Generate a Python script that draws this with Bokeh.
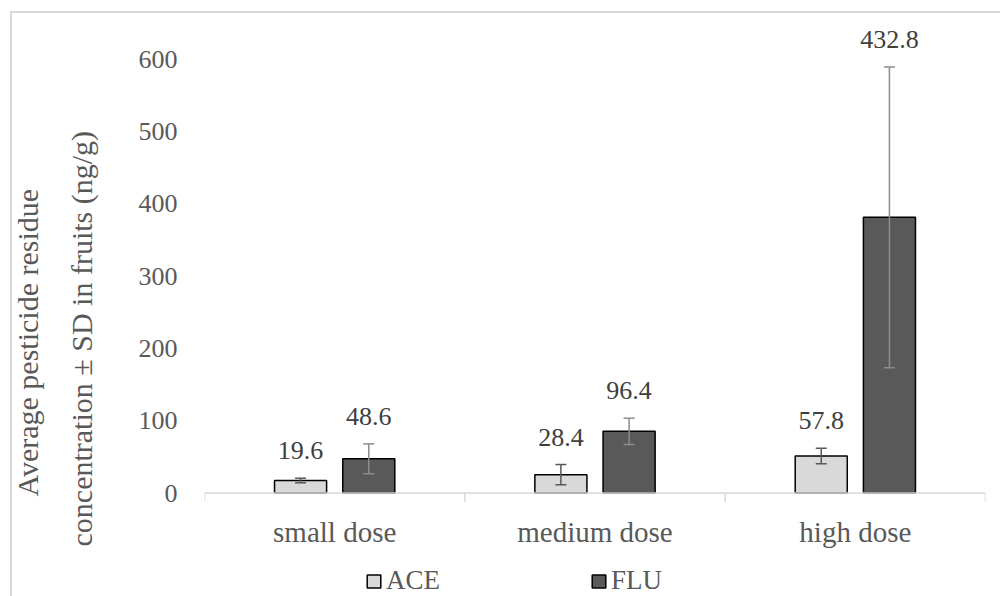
from bokeh.plotting import figure
from bokeh.models import (ColumnDataSource, FactorRange, Range1d, FixedTicker,
                          Legend, LegendItem, Title, Span)
from bokeh.transform import dodge
from bokeh.core.properties import value
from bokeh.embed import file_html
from bokeh.resources import INLINE

# ---- data ----
doses = ["small dose", "medium dose", "high dose"]
ace_mean = [17.3, 25.4, 51.3]
ace_sd = [3.2, 14.0, 10.7]
flu_mean = [47.3, 85.3, 381.5]
flu_sd = [20.7, 18.2, 208.0]
ace_labels = ["19.6", "28.4", "57.8"]
flu_labels = ["48.6", "96.4", "432.8"]
y_ticks = [0, 100, 200, 300, 400, 500, 600]
series = ["ACE", "FLU"]
category_edges = [0, 1, 2, 3]
title_lines = ["Average pesticide residue", "concentration \u00b1 SD  in fruits (ng/g)"]

FONT = "Liberation Serif"
GRAY_TXT = "#595959"
AXIS_GRAY = "#d9d9d9"

src = ColumnDataSource(dict(
    dose=doses,
    ace=ace_mean,
    ace_lo=[m - s for m, s in zip(ace_mean, ace_sd)],
    ace_hi=[m + s for m, s in zip(ace_mean, ace_sd)],
    ace_lbl=ace_labels,
    flu=flu_mean,
    flu_lo=[m - s for m, s in zip(flu_mean, flu_sd)],
    flu_hi=[m + s for m, s in zip(flu_mean, flu_sd)],
    flu_lbl=flu_labels,
))

p = figure(x_range=FactorRange(*doses), y_range=Range1d(-143.2, 640),
           width=1000, height=596, output_backend="svg", toolbar_location=None,
           min_border_left=204, min_border_right=15, min_border_top=30,
           min_border_bottom=0)
p.styles = {"box-shadow": "inset 10px 11px 0 0 #ffffff, inset 12px 13px 0 0 #d9d9d9"}
p.grid.visible = False
p.outline_line_color = None
p.background_fill_color = "white"
p.border_fill_alpha = 0
p.xaxis.visible = False

# y axis
p.yaxis.ticker = FixedTicker(ticks=y_ticks, minor_ticks=[])
p.yaxis.axis_line_color = None
p.yaxis.major_tick_line_color = None
p.yaxis.minor_tick_line_color = None
p.yaxis.major_tick_in = 0
p.yaxis.major_tick_out = 0
p.yaxis.major_label_standoff = 27
p.yaxis.major_label_text_font = FONT
p.yaxis.major_label_text_font_size = "26px"
p.yaxis.major_label_text_color = GRAY_TXT

# y-axis title, two lines (inner line added first)
for txt, stand, off in [(title_lines[1], 76, 50), (title_lines[0], -39, 100)]:
    p.add_layout(Title(text=txt, align="left", offset=off, standoff=stand,
                       text_font=FONT, text_font_size="30px",
                       text_font_style="normal", text_color=GRAY_TXT), "left")

# horizontal axis: baseline, category boundary ticks, category labels
p.add_layout(Span(location=0, dimension="width", line_color=AXIS_GRAY, line_width=1.5))
p.segment(x0=category_edges, y0=[0] * 4, x1=category_edges, y1=[-12.5] * 4,
          line_color=AXIS_GRAY, line_width=1.5)
p.text(x="dose", y=-54, text="dose", source=src, text_align="center",
       text_baseline="middle", text_font=value(FONT), text_font_size="29px",
       text_color=GRAY_TXT)

# bars
ace_x = dodge("dose", -0.131, range=p.x_range)
flu_x = dodge("dose", 0.131, range=p.x_range)
r_ace = p.vbar(x=ace_x, top="ace", width=0.2, source=src,
               fill_color="#d9d9d9", line_color="black", line_width=1.5)
r_flu = p.vbar(x=flu_x, top="flu", width=0.2, source=src,
               fill_color="#595959", line_color="black", line_width=1.5)

# error bars
for xx, lo, hi, col in [(ace_x, "ace_lo", "ace_hi", "#595959"),
                        (flu_x, "flu_lo", "flu_hi", "#8c8c8c")]:
    p.segment(x0=xx, y0=lo, x1=xx, y1=hi, source=src, line_color=col, line_width=1.5)
    p.scatter(x=xx, y=lo, marker="dash", size=11, source=src, line_color=col, line_width=1.5)
    p.scatter(x=xx, y=hi, marker="dash", size=11, source=src, line_color=col, line_width=1.5)

# data labels
for xx, hi, lbl in [(ace_x, "ace_hi", "ace_lbl"), (flu_x, "flu_hi", "flu_lbl")]:
    p.text(x=xx, y=hi, text=lbl, source=src, text_align="center",
           text_baseline="bottom", y_offset=-19,
           text_font=value(FONT), text_font_size="26px", text_color="#404040")

legend = Legend(items=[LegendItem(label=series[0], renderers=[r_ace]),
                       LegendItem(label=series[1], renderers=[r_flu])],
                orientation="horizontal", location=(161, 0),
                padding=0, margin=0, spacing=150,
                glyph_width=17, glyph_height=16, label_standoff=4,
                label_text_font=FONT, label_text_font_size="27px",
                label_text_color=GRAY_TXT,
                border_line_color=None, background_fill_alpha=0)
p.add_layout(legend, "center")

open("out.html", "w").write(file_html(p, INLINE))
